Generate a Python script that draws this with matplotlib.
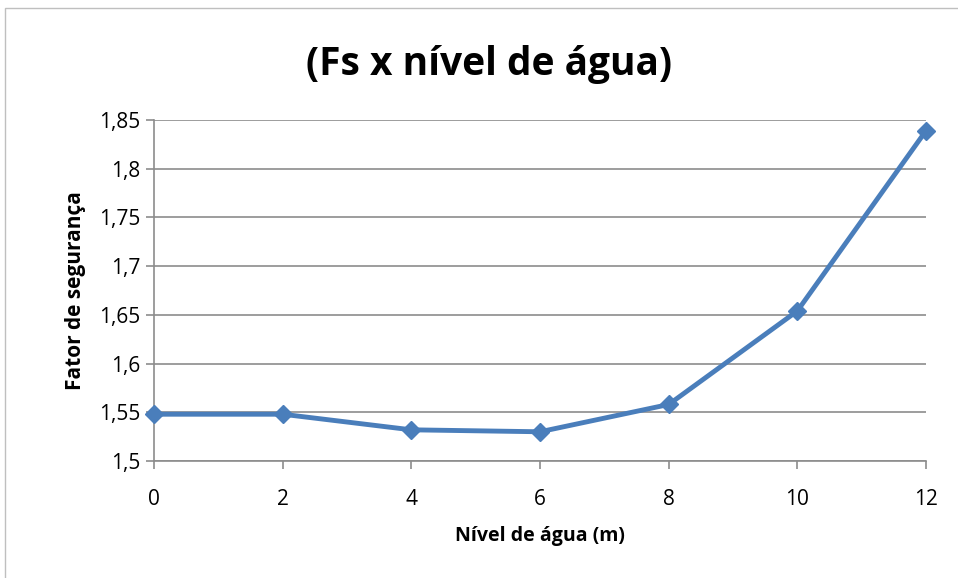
import matplotlib
matplotlib.use('Agg')
import matplotlib.pyplot as plt
from matplotlib.patches import Rectangle
from matplotlib.ticker import FuncFormatter

nivel = [0, 2, 4, 6, 8, 10, 12]
fs = [1.548, 1.548, 1.532, 1.530, 1.558, 1.654, 1.839]
yticks = [1.5, 1.55, 1.6, 1.65, 1.7, 1.75, 1.8, 1.85]

plt.rcParams['font.family'] = ['Open Sans', 'DejaVu Sans']

fig = plt.figure(figsize=(9.58, 5.78), dpi=100)
ax = fig.add_axes([154/958, 1 - 461/578, (926 - 154)/958, (461 - 120)/578])

fig.patches.append(Rectangle((5/958, -0.01), 1, 1.01 - 8/578, transform=fig.transFigure,
                             fill=False, edgecolor='#bfbfbf', linewidth=1))

ax.plot(nivel, fs, color='#4a7ebb', linewidth=3.5, marker='D', markersize=9,
        clip_on=False, zorder=3)

ax.set_xlim(0, 12)
ax.set_ylim(1.5, 1.85)
ax.set_xticks(nivel)
ax.set_yticks(yticks)
ax.yaxis.set_major_formatter(FuncFormatter(lambda v, p: ('%g' % round(v, 2)).replace('.', ',')))
ax.grid(axis='y', color='#8c8c8c', linewidth=1.2)
ax.set_axisbelow(True)

for s in ['top', 'right']:
    ax.spines[s].set_visible(False)
for s in ['left', 'bottom']:
    ax.spines[s].set_color('#8c8c8c')
    ax.spines[s].set_linewidth(1.2)
ax.tick_params(axis='both', colors='#8c8c8c', width=1.2, length=6, labelcolor='black',
               labelsize=15)
ax.tick_params(axis='x', pad=14)

ax.set_xlabel('Nível de água (m)', fontsize=14, fontweight='bold', labelpad=12)
ax.set_ylabel('Fator de segurança', fontsize=15, fontweight='bold', labelpad=10)
fig.text(0.5 + 10/958, 1 - 64/578, '(Fs x nível de água)', ha='center', va='center',
         fontsize=28, fontweight='bold')

fig.savefig('out.png', dpi=100)
